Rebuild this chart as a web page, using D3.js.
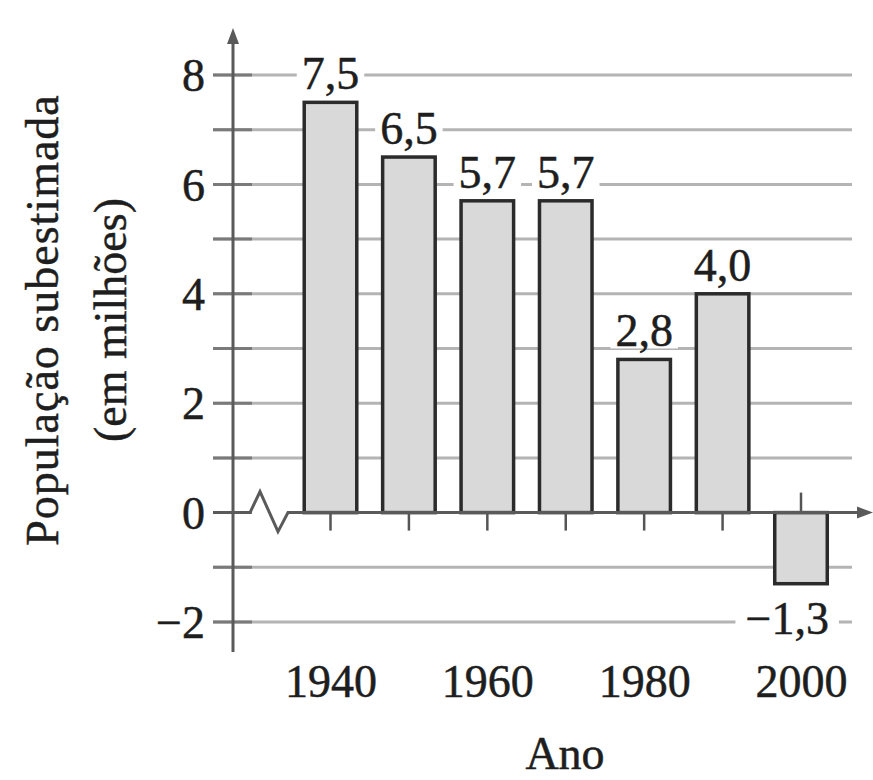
<!DOCTYPE html>
<html lang="pt">
  <head>
    <meta charset="UTF-8" />
    <title>População subestimada</title>
    <style>
      body {
        margin: 0;
        background: #fff;
      }
      svg text {
        font-family: 'Liberation Serif', 'Times New Roman', serif;
        fill: #1e1e1e;
        stroke: #1e1e1e;
        stroke-width: 0.5px;
      }
    </style>
  </head>
  <body>
    <div id="chart"></div>

    <script src="https://d3js.org/d3.v7.min.js"></script>
    <script>
      const years = [1940, 1950, 1960, 1970, 1980, 1990, 2000];
      const values = [7.5, 6.5, 5.7, 5.7, 2.8, 4.0, -1.3];
      const yTickLabels = [-2, 0, 2, 4, 6, 8];
      const gridValues = [-2, -1, 0, 1, 2, 3, 4, 5, 6, 7, 8];
      const xTickLabels = [1940, 1960, 1980, 2000];

      const data = years.map((year, i) => ({ year, value: values[i] }));

      const width = 873;
      const height = 780;
      const fontSize = 46;

      const svg = d3
        .select('#chart')
        .append('svg')
        .attr('width', width)
        .attr('height', height);

      const x = d3.scaleLinear().domain([1940, 2000]).range([330.5, 801]);
      const y = d3.scaleLinear().domain([-2, 8]).range([622, 75]);

      const axisX = 233;
      const gridLeft = 213;
      const gridRight = 852;
      const barWidth = (x(1950) - x(1940)) * 0.67;

      const fmt = (v) => d3.format('.1f')(v).replace('.', ',').replace('-', '\u2212');

      // horizontal grid lines
      svg
        .append('g')
        .selectAll('line')
        .data(gridValues.filter((d) => d !== 0))
        .enter()
        .append('line')
        .attr('x1', gridLeft)
        .attr('x2', gridRight)
        .attr('y1', (d) => y(d))
        .attr('y2', (d) => y(d))
        .attr('stroke', '#b4b4b4')
        .attr('stroke-width', 3);

      // darker stubs where the grid meets the axis
      svg
        .append('g')
        .selectAll('line')
        .data(gridValues)
        .enter()
        .append('line')
        .attr('x1', gridLeft)
        .attr('x2', axisX + 19)
        .attr('y1', (d) => y(d))
        .attr('y2', (d) => y(d))
        .attr('stroke', '#7a7a7a')
        .attr('stroke-width', 3);

      // value labels with white backing so grid lines break behind them
      const labelG = svg.append('g');
      const labels = labelG
        .selectAll('text')
        .data(data)
        .enter()
        .append('text')
        .attr('x', (d) => x(d.year))
        .attr('y', (d) => (d.value >= 0 ? y(d.value) - 13 : y(d.value) + 50))
        .attr('dx', (d) => (d.value < 0 ? '-0.3em' : 0))
        .attr('text-anchor', 'middle')
        .style('font-size', fontSize + 'px')
        .text((d) => fmt(d.value));

      labels.each(function (d) {
        const b = this.getBBox();
        const pad = d.value < 0 ? 10 : 5;
        labelG
          .insert('rect', 'text')
          .attr('x', b.x - pad)
          .attr('y', b.y + 6)
          .attr('width', b.width + pad * 2)
          .attr('height', b.height - 14)
          .attr('fill', '#fff');
      });

      // bars
      svg
        .append('g')
        .selectAll('rect')
        .data(data)
        .enter()
        .append('rect')
        .attr('x', (d) => x(d.year) - barWidth / 2)
        .attr('y', (d) => y(Math.max(0, d.value)))
        .attr('width', barWidth)
        .attr('height', (d) => Math.abs(y(d.value) - y(0)))
        .attr('fill', '#d9d9d9')
        .attr('stroke', '#2b2b2b')
        .attr('stroke-width', 3.5);

      // year ticks (down for positive bars, up for the negative one)
      svg
        .append('g')
        .selectAll('line')
        .data(data)
        .enter()
        .append('line')
        .attr('x1', (d) => x(d.year))
        .attr('x2', (d) => x(d.year))
        .attr('y1', y(0))
        .attr('y2', (d) => (d.value >= 0 ? y(0) + 18 : y(0) - 20))
        .attr('stroke', '#555')
        .attr('stroke-width', 2.5);

      // x axis with the break zigzag
      const y0 = y(0);
      svg
        .append('path')
        .attr(
          'd',
          d3.line()([
            [gridLeft, y0],
            [axisX + 17, y0],
            [axisX + 27, y0 - 21],
            [axisX + 45, y0 + 19],
            [axisX + 55, y0],
            [862, y0],
          ])
        )
        .attr('fill', 'none')
        .attr('stroke', '#5a5a5a')
        .attr('stroke-width', 3)
        .attr('stroke-linejoin', 'miter');

      svg
        .append('path')
        .attr('d', `M873,${y0} L857,${y0 - 6} L857,${y0 + 6} Z`)
        .attr('fill', '#5a5a5a');

      // y axis with arrow
      svg
        .append('line')
        .attr('x1', axisX)
        .attr('x2', axisX)
        .attr('y1', 40)
        .attr('y2', 652)
        .attr('stroke', '#5a5a5a')
        .attr('stroke-width', 3);

      svg
        .append('path')
        .attr('d', `M${axisX},28 L${axisX - 6},44 L${axisX + 6},44 Z`)
        .attr('fill', '#5a5a5a');

      // y tick labels
      const yAxis = d3
        .axisLeft(y)
        .tickValues(yTickLabels)
        .tickSize(0)
        .tickPadding(28)
        .tickFormat((d) => (d < 0 ? '\u2212' + Math.abs(d) : d));

      svg
        .append('g')
        .attr('transform', `translate(${axisX}, 0)`)
        .call(yAxis)
        .call((g) => g.select('.domain').remove())
        .selectAll('text')
        .attr('font-family', null)
        .style('font-size', fontSize + 'px')
        .attr('dy', '0.34em');

      // x tick labels
      const xAxis = d3
        .axisBottom(x)
        .tickValues(xTickLabels)
        .tickSize(0)
        .tickPadding(14)
        .tickFormat(d3.format('d'));

      svg
        .append('g')
        .attr('transform', 'translate(0, 650)')
        .call(xAxis)
        .call((g) => g.select('.domain').remove())
        .selectAll('text')
        .attr('font-family', null)
        .style('font-size', fontSize + 'px');

      // axis titles
      svg
        .append('text')
        .attr('x', 565)
        .attr('y', 769)
        .attr('text-anchor', 'middle')
        .style('font-size', fontSize + 'px')
        .text('Ano');

      const yTitle = svg
        .append('text')
        .attr('transform', 'translate(0, 320) rotate(-90)')
        .attr('text-anchor', 'middle')
        .style('font-size', fontSize + 'px');

      yTitle.append('tspan').attr('x', 0).attr('y', 58).style('letter-spacing', '1px').text('População subestimada');
      yTitle.append('tspan').attr('x', 0).attr('y', 126).text('(em milhões)');
    </script>
  </body>
</html>
